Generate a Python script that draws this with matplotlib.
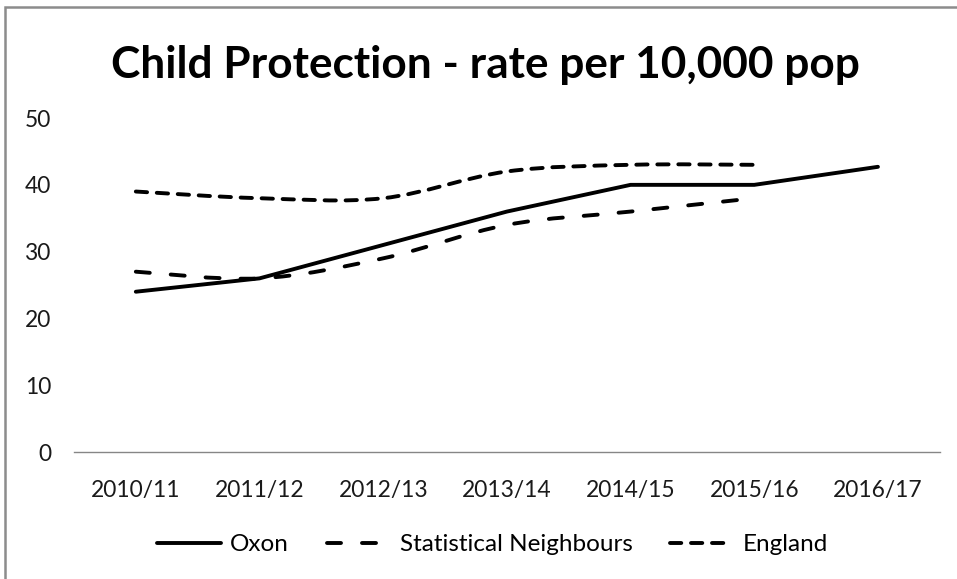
import numpy as np
import matplotlib
matplotlib.use("Agg")
import matplotlib.pyplot as plt
from matplotlib.path import Path
from matplotlib.patches import PathPatch, Rectangle
from matplotlib.lines import Line2D

plt.rcParams['font.family'] = ['Lato', 'DejaVu Sans']

# Data
years = ["2010/11", "2011/12", "2012/13", "2013/14", "2014/15", "2015/16", "2016/17"]
oxon = [24, 26, 31, 36, 40, 40, 42.7]
stat_neighbours = [27, 26, 29, 34, 36, 38]
england = [39, 38, 38, 42, 43, 43]

LW = 2.8
SN_DASH = (0, (3.6, 5.4))
ENG_DASH = (0, (2.9, 2.5))


def smooth_path(xs, ys):
    # Excel-like smoothed line: cubic Bezier through each point
    pts = np.column_stack([xs, ys]).astype(float)
    n = len(pts)
    verts = [pts[0]]
    codes = [Path.MOVETO]
    for i in range(n - 1):
        p0 = pts[max(i - 1, 0)]
        p1 = pts[i]
        p2 = pts[i + 1]
        p3 = pts[min(i + 2, n - 1)]
        c1 = p1 + (p2 - p0) / 6.0
        c2 = p2 - (p3 - p1) / 6.0
        verts += [c1, c2, p2]
        codes += [Path.CURVE4] * 3
    return Path(verts, codes)


fig = plt.figure(figsize=(9.57, 5.79), dpi=100)
ax = fig.add_axes([0.0773, 0.2193, 0.9047, 0.5768])

x = np.arange(len(years))
ax.plot(x, oxon, color='black', lw=LW, solid_capstyle='round',
        solid_joinstyle='round', label='Oxon')

ax.add_patch(PathPatch(smooth_path(x[:len(stat_neighbours)], stat_neighbours),
                       fill=False, edgecolor='black', lw=LW,
                       linestyle=SN_DASH, capstyle='round'))
ax.add_patch(PathPatch(smooth_path(x[:len(england)], england),
                       fill=False, edgecolor='black', lw=LW,
                       linestyle=ENG_DASH, capstyle='round'))

ax.set_xlim(-0.5, len(years) - 0.5)
ax.set_ylim(0, 50)
ax.set_yticks(range(0, 51, 10))
ax.set_xticks(x)
ax.set_xticklabels(years)

for s in ['top', 'right', 'left']:
    ax.spines[s].set_visible(False)
ax.spines['bottom'].set_color('#868686')
ax.spines['bottom'].set_linewidth(1.0)
ax.tick_params(axis='both', length=0, labelsize=16.4, colors='#1a1a1a')
ax.tick_params(axis='y', pad=16.5)
ax.tick_params(axis='x', pad=20)

fig.text(0.507, 0.888, "Child Protection - rate per 10,000 pop",
         ha='center', va='center', fontsize=31.8, fontweight='bold')

handles = [
    Line2D([], [], color='black', lw=LW, solid_capstyle='round'),
    Line2D([], [], color='black', lw=LW, linestyle=SN_DASH, dash_capstyle='round'),
    Line2D([], [], color='black', lw=LW, linestyle=ENG_DASH, dash_capstyle='round'),
]
fig.legend(handles, ["Oxon", "Statistical Neighbours", "England"],
           loc='center', bbox_to_anchor=(0.515, 0.059), ncol=3, frameon=False,
           fontsize=17.5, handlelength=2.6, handletextpad=0.4, columnspacing=1.55)

# gray chart-area border (left and top visible)
fig.patches.append(Rectangle((5 / 957, -0.1), 1.2, (579 - 7) / 579 + 0.1,
                             transform=fig.transFigure, fill=False,
                             edgecolor='#8c8c8c', lw=1.8))

fig.savefig("out.png", dpi=100)
